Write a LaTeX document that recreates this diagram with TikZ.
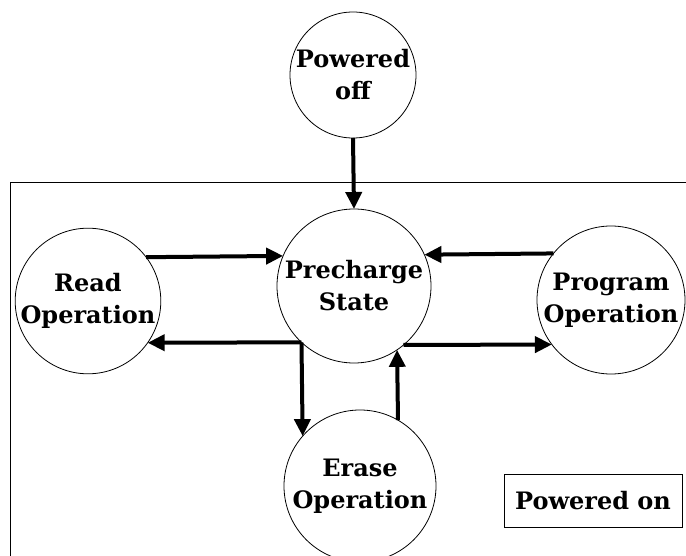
\documentclass[tikz,border=0pt]{standalone}
\usepackage{fontspec}
\setmainfont{DejaVu Serif}
\usetikzlibrary{arrows.meta}

\tikzset{
  state/.style={circle, draw, line width=0.8pt, inner sep=0pt, outer sep=0pt,
    align=center, font=\bfseries\fontsize{24}{32}\selectfont},
  flow/.style={line width=4pt, -{Triangle[length=17pt,width=16pt]}},
  legend/.style={draw, line width=0.8pt, inner sep=0pt, outer sep=0pt,
    minimum width=178pt, minimum height=53pt,
    font=\bfseries\fontsize{24}{28}\selectfont}
}

\begin{document}
\begin{tikzpicture}[x=1pt,y=1pt]
  \useasboundingbox (0,0) rectangle (686,-556);

  % powered-on region
  \draw[line width=0.8pt] (700,-182) -- (10,-182) -- (10,-570);

  % states
  \node[state, minimum size=126pt] (off)  at (353,-75)  {Powered\\off};
  \node[state, minimum size=154pt] (prec) at (354,-286) {Precharge\\State};
  \node[state, minimum size=144pt] (read) at (88,-301)  {Read\\Operation};
  \node[state, minimum size=148pt] (prog) at (611,-300) {Program\\Operation};
  \node[state, minimum size=152pt] (erase) at (360,-486) {Erase\\Operation};

  \node[legend] (on) at (593,-500.5) {Powered on};

  % transitions
  \draw[flow] (off.south) -- (prec.north);
  \draw[flow] (read.37.7) -- (prec.157.9);
  \draw[flow] (prec.227.7) -- (read.-35.7);
  \draw[flow] (prec.227.7) -- (erase.139.7);
  \draw[flow] (erase.60.9) -- (prec.-56.1);
  \draw[flow] (prec.-50) -- (prog.217.5);
  \draw[flow] (prog.141.6) -- (prec.24.6);
\end{tikzpicture}
\end{document}
